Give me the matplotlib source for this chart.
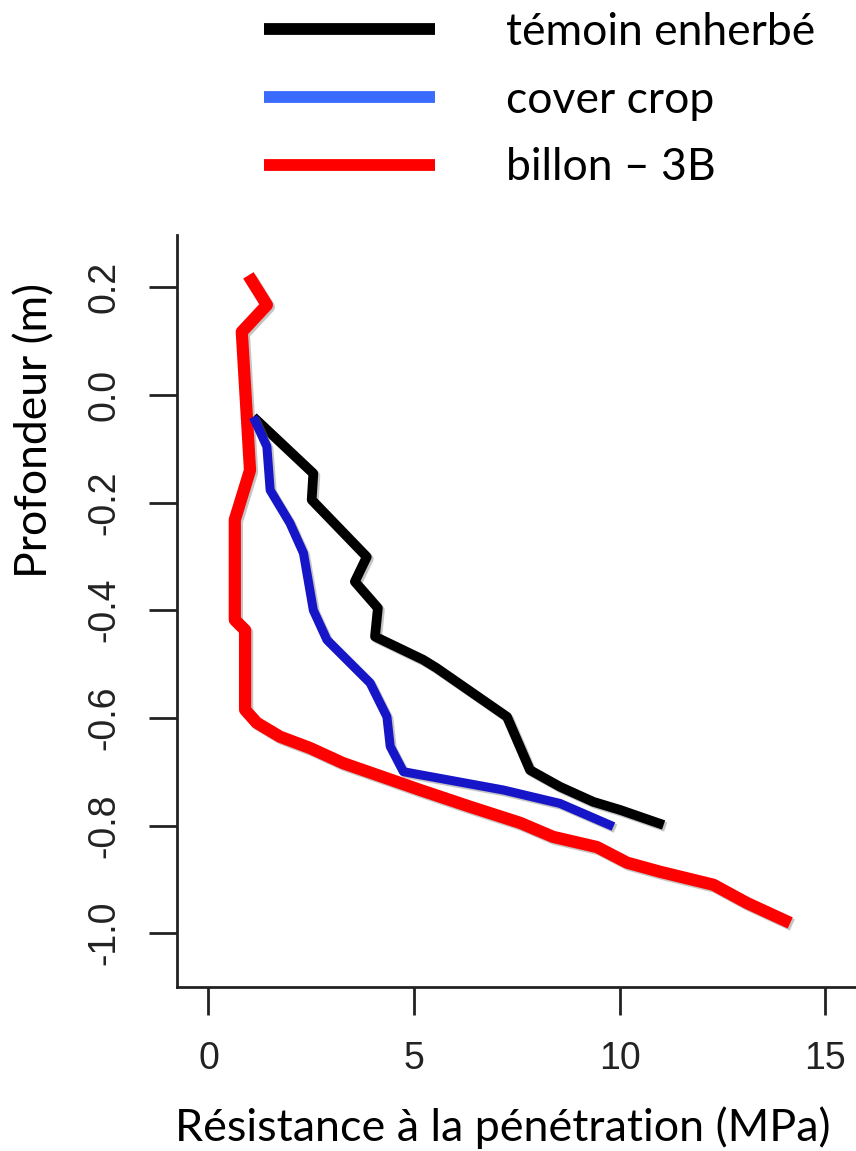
import matplotlib
matplotlib.use("Agg")
import matplotlib.pyplot as plt
import matplotlib.patheffects as pe
from matplotlib.lines import Line2D

# profondeur (m) vs résistance (MPa)
temoin_x = [1.09, 2.55, 2.51, 3.85, 3.56, 4.12, 4.05, 5.22, 5.54, 7.26, 7.82, 8.55, 9.36, 10.01, 11.07]
temoin_y = [-0.041, -0.146, -0.195, -0.301, -0.347, -0.396, -0.449, -0.492, -0.507, -0.598, -0.697, -0.728, -0.756, -0.771, -0.799]

cover_x = [1.09, 1.42, 1.50, 1.98, 2.31, 2.55, 2.88, 3.93, 4.34, 4.42, 4.74, 7.17, 8.55, 9.85]
cover_y = [-0.041, -0.096, -0.177, -0.238, -0.294, -0.400, -0.455, -0.535, -0.598, -0.653, -0.700, -0.734, -0.759, -0.802]

billon_x = [0.97, 1.42, 0.81, 1.01, 0.64, 0.64, 0.89, 0.89, 1.17, 1.74, 2.47, 3.27, 4.25, 5.15,
            6.36, 7.58, 8.38, 9.45, 10.18, 10.99, 12.28, 13.10, 14.15]
billon_y = [0.222, 0.167, 0.117, -0.140, -0.232, -0.418, -0.437, -0.585, -0.609, -0.635, -0.656, -0.684,
            -0.710, -0.734, -0.765, -0.795, -0.821, -0.840, -0.869, -0.886, -0.910, -0.944, -0.981]

x_ticks = [0, 5, 10, 15]
y_ticks = [-1.0, -0.8, -0.6, -0.4, -0.2, 0.0, 0.2]
y_ticklabels = ["-1.0", "-0.8", "-0.6", "-0.4", "-0.2", "0.0", "0.2"]

legend_labels = ["témoin enherbé", "cover crop", "billon – 3B"]
legend_colors = ["black", "#3a6bff", "#ff0000"]

W, H = 856, 1151
fig = plt.figure(figsize=(W / 100, H / 100), dpi=100)
ax = fig.add_axes([177 / W, 1 - 987 / H, 1 - 177 / W, (987 - 235) / H])

shadow = [pe.SimpleLineShadow(offset=(1.5, -1.5), shadow_color="grey", alpha=0.45), pe.Normal()]
ax.plot(billon_x, billon_y, color="#ff0000", lw=8.8, solid_capstyle="butt", path_effects=shadow, zorder=3)
ax.plot(temoin_x, temoin_y, color="black", lw=7, solid_capstyle="butt", path_effects=shadow, zorder=4)
ax.plot(cover_x, cover_y, color="#1616c8", lw=6.5, solid_capstyle="butt", path_effects=shadow, zorder=5)

ax.set_xlim(-0.766, 15.75)
ax.set_ylim(-1.100, 0.297)
for s in ["top", "right"]:
    ax.spines[s].set_visible(False)
for s in ["left", "bottom"]:
    ax.spines[s].set_linewidth(2)
    ax.spines[s].set_color("#222222")

ax.set_xticks(x_ticks)
ax.set_xticklabels([str(t) for t in x_ticks])
ax.set_yticks(y_ticks)
ax.set_yticklabels(y_ticklabels)
ax.tick_params(length=20, width=2, color="#222222", pad=19, labelsize=27, labelcolor="#222222")
ax.tick_params(axis="y", labelrotation=90)
for lab in ax.get_xticklabels() + ax.get_yticklabels():
    lab.set_family("Liberation Sans")
for lab in ax.get_yticklabels():
    lab.set_va("center")

fig.text(503 / W, 1 - 1128 / H, "Résistance à la pénétration (MPa)", family="Lato",
         fontsize=32.3, ha="center", va="center")
fig.text(35 / W, 1 - 430 / H, "Profondeur (m)", family="Lato", fontsize=32,
         ha="center", va="center", rotation=90)

handles = [Line2D([], [], color=c, lw=8.5, solid_capstyle="butt") for c in legend_colors]
fig.legend(handles, legend_labels, loc="upper left", bbox_to_anchor=(264 / W, 1 - 12 / H),
           frameon=False, prop={"family": "Lato", "size": 32}, handlelength=3.85,
           handletextpad=1.6, labelspacing=0.6, borderpad=0, borderaxespad=0)

fig.savefig("out.png", dpi=100)
